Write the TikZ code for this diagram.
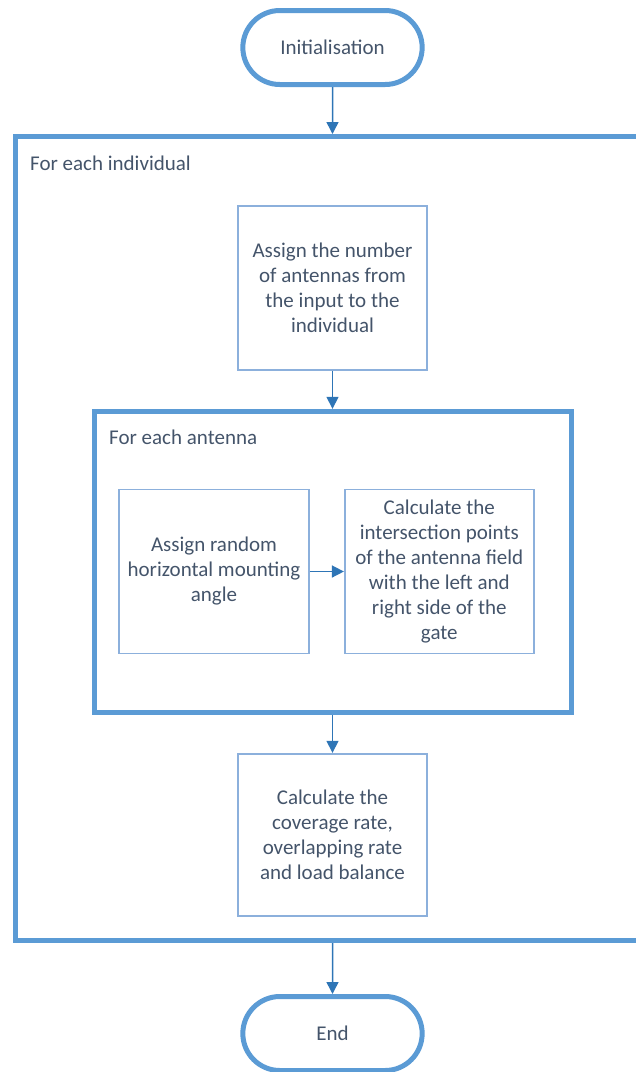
\documentclass[tikz,border=0pt]{standalone}
\usepackage{fontspec}
\setmainfont{Carlito}
\usetikzlibrary{shapes.misc, arrows.meta, positioning}
\definecolor{frameblue}{HTML}{5B9BD5}
\definecolor{arrowblue}{HTML}{2E75B6}
\definecolor{boxblue}{HTML}{8CB0DC}
\definecolor{textgrey}{HTML}{44546A}
\newcommand{\flowfont}{\fontsize{21}{25}\selectfont}

\begin{document}
\begin{tikzpicture}[
    x=1pt, y=1pt,
    node distance=38pt,
    terminal/.style={rounded rectangle, draw=frameblue, line width=5pt, minimum width=186pt, minimum height=74pt, font=\flowfont, text=textgrey},
    stepbox/.style={draw=boxblue, line width=1.8pt, minimum width=189pt, minimum height=164pt, align=center, font=\flowfont, text=textgrey},
    loopframe/.style={draw=frameblue, line width=5pt},
    looplabel/.style={anchor=base west, inner sep=0pt, font=\flowfont, text=textgrey},
    arrow/.style={-{Triangle[width=12pt, length=12pt]}, line width=1.5pt, draw=arrowblue, fill=arrowblue}
]
    \useasboundingbox (0,0) rectangle (636,-1072);
    \clip (0,0) rectangle (636,-1072);

    \node[terminal] (init) at (332.5,-47.5) {Initialisation};
    \node[loopframe, anchor=north west, minimum width=700pt, minimum height=804pt] (indiv) at (12.5,-134) {};
    \node[looplabel] (indivlbl) at (30,-170) {For each individual};
    \node[stepbox, below=118pt of init] (assign) {Assign the number\\of antennas from\\the input to the\\individual};

    % inner loop
    \node[loopframe, below=of assign, minimum width=477pt, minimum height=301pt] (antenna) {};
    \node[looplabel] (antennalbl) at (109,-444) {For each antenna};
    \node[stepbox, minimum width=190pt] (angle) at (214,-571.5) {Assign random\\horizontal mounting\\angle};
    \node[stepbox, right=34pt of angle] (isect) {Calculate the\\intersection points\\of the antenna field\\with the left and\\right side of the\\gate};

    \node[stepbox, below=of antenna, minimum height=162pt] (cover) {Calculate the\\coverage rate,\\overlapping rate\\and load balance};
    \node[terminal] (end) at (332.5,-1033.5) {End};

    \draw[arrow] (init) -- (init |- indiv.north);
    \draw[arrow] (assign) -- (antenna);
    \draw[arrow] (angle) -- (isect);
    \draw[arrow] (antenna) -- (cover);
    \draw[arrow] (cover |- indiv.south) -- (end);
\end{tikzpicture}
\end{document}
